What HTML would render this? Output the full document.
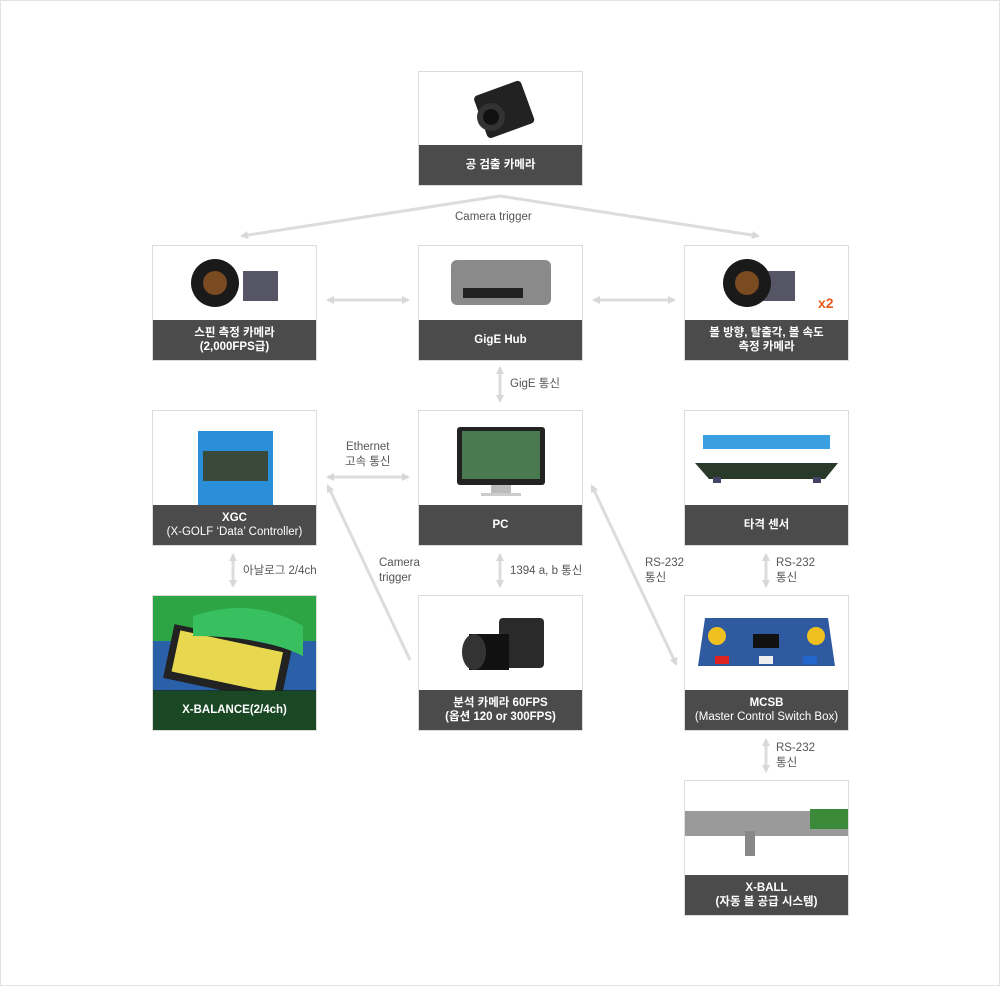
<!DOCTYPE html>
<html><head><meta charset="utf-8"><style>
body{margin:0;background:#fff;font-family:"Liberation Sans","Noto Sans CJK KR",sans-serif}
.wrap{position:relative;width:1000px;height:986px;overflow:hidden}
.frame{position:absolute;left:0;top:0;width:998px;height:984px;border:1px solid #e2e2e2}
.box{position:absolute;width:163px;border:1px solid #dcdcdc;background:#fff;overflow:hidden}
.bar{position:absolute;left:0;right:0;bottom:0;height:40px;background:#4b4b4b;color:#fff;font-size:11.5px;font-weight:bold;display:flex;flex-direction:column;align-items:center;justify-content:center;line-height:14px;text-align:center}
.lbl{position:absolute;font-size:11.5px;color:#555;line-height:15px}
svg.ov{position:absolute;left:0;top:0}
</style></head><body><div class="wrap"><div class="frame"></div>
<svg class="ov" width="1000" height="986">
<defs><marker id="a" markerWidth="8" markerHeight="8" refX="6" refY="4" orient="auto-start-reverse" markerUnits="userSpaceOnUse"><path d="M0,0 L8,4 L0,8z" fill="#d8d8d8"/></marker></defs>
<g stroke="#dcdcdc" stroke-width="3" fill="none">
<path d="M500,196 L242,236" marker-end="url(#a)"/>
<path d="M500,196 L758,236" marker-end="url(#a)"/>
<path d="M328,300 L408,300" marker-start="url(#a)" marker-end="url(#a)"/>
<path d="M594,300 L674,300" marker-start="url(#a)" marker-end="url(#a)"/>
<path d="M500,368 L500,401" marker-start="url(#a)" marker-end="url(#a)"/>
<path d="M328,477 L408,477" marker-start="url(#a)" marker-end="url(#a)"/>
<path d="M410,660 L328,486" marker-end="url(#a)"/>
<path d="M233,555 L233,586" marker-start="url(#a)" marker-end="url(#a)"/>
<path d="M500,555 L500,586" marker-start="url(#a)" marker-end="url(#a)"/>
<path d="M592,486 L676,664" marker-start="url(#a)" marker-end="url(#a)"/>
<path d="M766,555 L766,586" marker-start="url(#a)" marker-end="url(#a)"/>
<path d="M766,740 L766,771" marker-start="url(#a)" marker-end="url(#a)"/>
</g></svg>

<div class="box" style="left:418px;top:71px;height:113px"><svg width="163" height="75"><rect x="60" y="15" width="50" height="45" rx="4" fill="#222" transform="rotate(-20 85 37)"/><circle cx="72" cy="45" r="14" fill="#333"/><circle cx="72" cy="45" r="8" fill="#111"/></svg><div class="bar">공 검출 카메라</div></div>

<div class="lbl" style="left:455px;top:210px">Camera trigger</div>

<div class="box" style="left:152px;top:245px;height:114px"><svg width="163" height="75"><rect x="90" y="25" width="35" height="30" fill="#556" /><circle cx="62" cy="37" r="24" fill="#1a1a1a"/><circle cx="62" cy="37" r="12" fill="#7a4a20"/></svg><div class="bar">스핀 측정 카메라<span>(2,000FPS급)</span></div></div>
<div class="box" style="left:418px;top:245px;height:114px"><svg width="163" height="75"><rect x="32" y="14" width="100" height="45" rx="6" fill="#8a8a8a"/><rect x="44" y="42" width="60" height="10" fill="#222"/></svg><div class="bar">GigE Hub</div></div>
<div class="box" style="left:684px;top:245px;height:114px"><svg width="163" height="75"><rect x="75" y="25" width="35" height="30" fill="#556"/><circle cx="62" cy="37" r="24" fill="#1a1a1a"/><circle cx="62" cy="37" r="12" fill="#7a4a20"/><text x="133" y="62" font-size="14" font-weight="bold" fill="#e85a1a" font-family="Liberation Sans">x2</text></svg><div class="bar">볼 방향, 탈출각, 볼 속도<span>측정 카메라</span></div></div>

<div class="lbl" style="left:510px;top:377px">GigE 통신</div>

<div class="box" style="left:152px;top:410px;height:134px"><svg width="163" height="95"><rect x="45" y="20" width="75" height="75" fill="#2a8ed8"/><rect x="50" y="40" width="65" height="30" fill="#3a4a3a"/></svg><div class="bar">XGC<span style="font-weight:normal">(X-GOLF ‘Data’ Controller)</span></div></div>
<div class="lbl" style="left:345px;top:440px;text-align:center">Ethernet<br>고속 통신</div>
<div class="box" style="left:418px;top:410px;height:134px"><svg width="163" height="95"><rect x="38" y="16" width="88" height="58" rx="3" fill="#222"/><rect x="43" y="20" width="78" height="48" fill="#4a7a50"/><rect x="72" y="74" width="20" height="8" fill="#bbb"/><rect x="62" y="82" width="40" height="3" fill="#ccc"/></svg><div class="bar">PC</div></div>
<div class="box" style="left:684px;top:410px;height:134px"><svg width="163" height="95"><rect x="18" y="24" width="127" height="14" fill="#3aa0e0"/><path d="M10,52 L153,52 L140,68 L24,68z" fill="#2a3a2a"/><rect x="28" y="66" width="8" height="6" fill="#446"/><rect x="128" y="66" width="8" height="6" fill="#446"/></svg><div class="bar">타격 센서</div></div>

<div class="lbl" style="left:243px;top:564px">아날로그 2/4ch</div>
<div class="lbl" style="left:379px;top:556px">Camera<br>trigger</div>
<div class="lbl" style="left:510px;top:564px">1394 a, b 통신</div>
<div class="lbl" style="left:645px;top:556px">RS-232<br>통신</div>
<div class="lbl" style="left:776px;top:556px">RS-232<br>통신</div>

<div class="box" style="left:152px;top:595px;height:134px;background:#2da545"><svg width="163" height="95"><rect x="0" y="45" width="163" height="50" fill="#2a60a8"/><rect x="15" y="40" width="120" height="55" fill="#222" transform="rotate(12 75 65)"/><rect x="22" y="45" width="105" height="42" fill="#e8d850" transform="rotate(12 75 65)"/><path d="M40,20 Q100,0 150,30 L150,60 Q110,40 40,40z" fill="#38c060"/></svg><div class="bar" style="background:rgba(20,40,25,.75)">X-BALANCE(2/4ch)</div></div>
<div class="box" style="left:418px;top:595px;height:134px"><svg width="163" height="95"><rect x="80" y="22" width="45" height="50" rx="4" fill="#2a2a2a"/><rect x="50" y="38" width="40" height="36" fill="#111"/><ellipse cx="55" cy="56" rx="12" ry="18" fill="#333"/></svg><div class="bar">분석 카메라 60FPS<span>(옵션 120 or 300FPS)</span></div></div>
<div class="box" style="left:684px;top:595px;height:134px"><svg width="163" height="95"><path d="M20,22 L143,22 L150,70 L13,70z" fill="#2f5aa0"/><circle cx="32" cy="40" r="9" fill="#f0c020"/><circle cx="131" cy="40" r="9" fill="#f0c020"/><rect x="68" y="38" width="26" height="14" fill="#111"/><rect x="30" y="60" width="14" height="8" fill="#d22"/><rect x="74" y="60" width="14" height="8" fill="#eee"/><rect x="118" y="60" width="14" height="8" fill="#26c"/></svg><div class="bar">MCSB<span style="font-weight:normal">(Master Control Switch Box)</span></div></div>

<div class="lbl" style="left:776px;top:741px">RS-232<br>통신</div>

<div class="box" style="left:684px;top:780px;height:134px"><svg width="163" height="95"><rect x="0" y="30" width="163" height="25" fill="#9a9a9a"/><rect x="125" y="28" width="38" height="20" fill="#3a8a3a"/><rect x="60" y="50" width="10" height="25" fill="#888"/></svg><div class="bar">X-BALL<span>(자동 볼 공급 시스템)</span></div></div>
</div></body></html>
